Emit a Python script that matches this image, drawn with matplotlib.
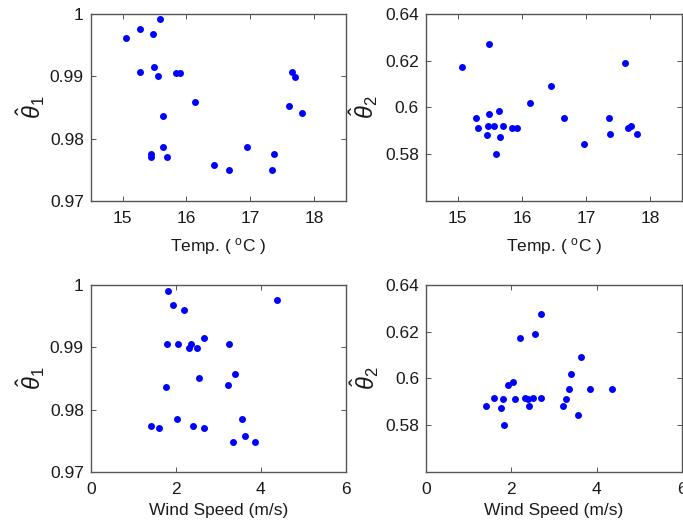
import matplotlib
matplotlib.use("Agg")
import matplotlib.pyplot as plt

plt.rcParams['font.family'] = ['Liberation Sans', 'DejaVu Sans']
plt.rcParams['mathtext.fontset'] = 'custom'
plt.rcParams['mathtext.rm'] = 'Liberation Sans'
plt.rcParams['mathtext.it'] = 'Liberation Sans:italic'
plt.rcParams['mathtext.bf'] = 'Liberation Sans:bold'

# Panel 1: temperature vs theta1
temp_a = [15.06, 15.27, 15.47, 15.59, 15.27, 15.49, 15.55, 15.83, 15.90, 16.13, 15.63, 15.63,
          15.44, 15.44, 15.70, 16.44, 16.67, 16.95, 17.38, 17.35, 17.65, 17.70, 17.61, 17.81]
theta1_a = [0.9961, 0.99765, 0.99674, 0.9992, 0.99064, 0.99155, 0.9900, 0.9906, 0.9906, 0.98583,
            0.98364, 0.97861, 0.97749, 0.97706, 0.97711, 0.97578, 0.97492, 0.97861, 0.97749,
            0.97492, 0.9907, 0.98995, 0.98519, 0.98406]

# Panel 2: temperature vs theta2
temp_b = [15.07, 15.49, 15.28, 15.31, 15.45, 15.47, 15.49, 15.56, 15.64, 15.70, 15.66, 15.60,
          15.85, 15.92, 16.13, 16.45, 16.66, 16.96, 17.36, 17.38, 17.60, 17.65, 17.70, 17.80]
theta2_b = [0.6174, 0.6273, 0.5956, 0.5914, 0.5884, 0.5921, 0.5973, 0.5921, 0.5985, 0.5921,
            0.5874, 0.5803, 0.5914, 0.5914, 0.6021, 0.6091, 0.5956, 0.5844, 0.5956, 0.5886,
            0.6191, 0.5914, 0.5921, 0.5886]

# Panel 3: wind speed vs theta1
wind_c = [1.83, 1.93, 2.19, 4.38, 1.80, 2.06, 2.31, 2.35, 2.50, 2.67, 3.25, 2.54, 3.40, 3.22,
          1.77, 2.02, 3.56, 1.41, 1.61, 2.41, 2.67, 3.63, 3.34, 3.86]
theta1_c = [0.99904, 0.99669, 0.9960, 0.99754, 0.99055, 0.99055, 0.98991, 0.99055, 0.98991,
            0.99141, 0.99055, 0.98511, 0.98575, 0.98399, 0.98356, 0.97854, 0.97854, 0.97742,
            0.97705, 0.97742, 0.97705, 0.97571, 0.97486, 0.97486]

# Panel 4: wind speed vs theta2
wind_d = [1.41, 1.60, 1.80, 1.76, 1.83, 1.92, 2.05, 2.09, 2.21, 2.33, 2.38, 2.41, 2.50, 2.56,
          2.69, 2.69, 3.21, 3.28, 3.36, 3.40, 3.56, 3.62, 3.84, 4.36]
theta2_d = [0.5884, 0.5918, 0.5913, 0.5872, 0.5801, 0.5972, 0.5984, 0.5913, 0.6173, 0.5918,
            0.5913, 0.5884, 0.5918, 0.6190, 0.6273, 0.5918, 0.5884, 0.5913, 0.5955, 0.6020,
            0.5843, 0.6091, 0.5955, 0.5955]

temp_ticks = [15, 16, 17, 18]
wind_ticks = [0, 2, 4, 6]
theta1_ticks = [0.97, 0.98, 0.99, 1.0]
theta1_labels = ['0.97', '0.98', '0.99', '1']
theta2_ticks = [0.58, 0.60, 0.62, 0.64]
theta2_labels = ['0.58', '0.6', '0.62', '0.64']

fig = plt.figure(figsize=(6.83, 5.24), dpi=100)

FS = 12.5
spine_col = '#555555'

def style(ax, x, y, xlim, ylim, xticks, yticks, ylabels, xlabel, ylabel, xlab_y, ylab_x):
    ax.plot(x, y, 'o', color='#0000ff', ms=5.0, mew=0)
    ax.set_xlim(*xlim)
    ax.set_ylim(*ylim)
    ax.set_xticks(xticks)
    ax.set_xticklabels([str(t) for t in xticks])
    ax.set_yticks(yticks)
    ax.set_yticklabels(ylabels)
    for s in ax.spines.values():
        s.set_color(spine_col)
        s.set_linewidth(1.0)
    ax.tick_params(direction='in', top=True, right=True, length=3.5, width=0.7,
                   color=spine_col, labelsize=FS, labelcolor='#1a1a1a')
    ax.tick_params(axis='x', pad=7)
    ax.tick_params(axis='y', pad=5)
    ax.set_xlabel(xlabel, fontsize=FS, color='#1a1a1a', va='center')
    ax.xaxis.set_label_coords(0.5, xlab_y)
    ax.set_ylabel(ylabel, fontsize=17, color='#1a1a1a', va='center')
    ax.yaxis.set_label_coords(ylab_x, 0.5)

ax1 = fig.add_axes([0.1328, 0.6164, 0.3734, 0.3569])
style(ax1, temp_a, theta1_a, (14.5, 18.5), (0.97, 1.0), temp_ticks, theta1_ticks, theta1_labels,
      r'Temp. ( $^{\mathrm{o}}$C )', r'$\hat{\theta}_1$', -0.245, -0.235)

ax2 = fig.add_axes([0.6233, 0.6164, 0.3757, 0.3569])
style(ax2, temp_b, theta2_b, (14.5, 18.5), (0.56, 0.64), temp_ticks, theta2_ticks, theta2_labels,
      r'Temp. ( $^{\mathrm{o}}$C )', r'$\hat{\theta}_2$', -0.245, -0.24)

ax3 = fig.add_axes([0.1328, 0.0992, 0.3734, 0.3574])
style(ax3, wind_c, theta1_c, (0, 6), (0.97, 1.0), wind_ticks, theta1_ticks, theta1_labels,
      'Wind Speed (m/s)', r'$\hat{\theta}_1$', -0.205, -0.235)

ax4 = fig.add_axes([0.6237, 0.0992, 0.3750, 0.3574])
style(ax4, wind_d, theta2_d, (0, 6), (0.56, 0.64), wind_ticks, theta2_ticks, theta2_labels,
      'Wind Speed (m/s)', r'$\hat{\theta}_2$', -0.205, -0.24)

fig.savefig('out.png', dpi=100)
